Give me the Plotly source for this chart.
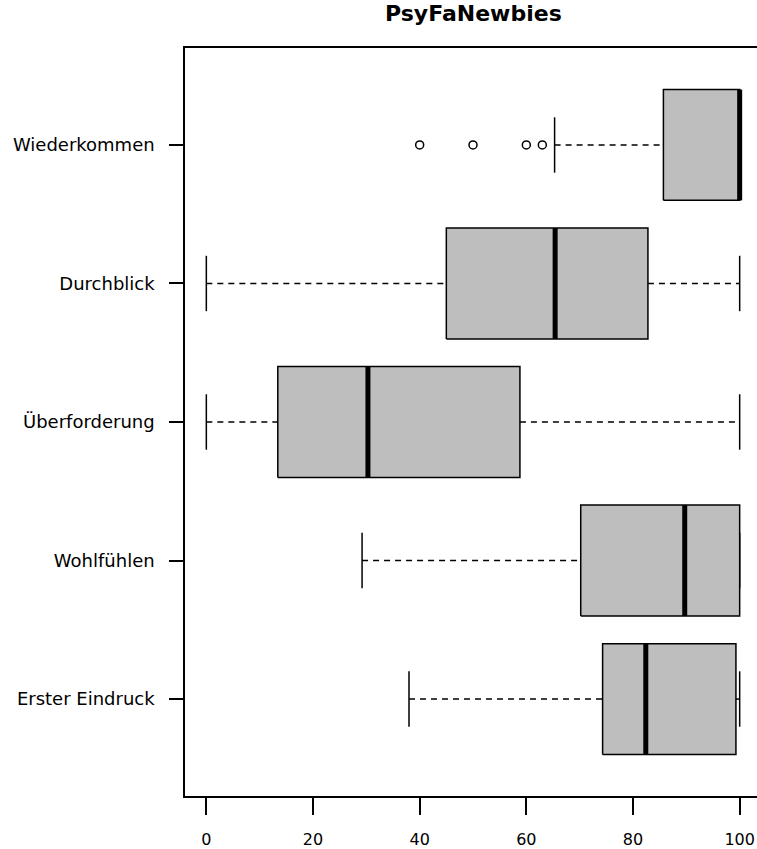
import plotly.graph_objects as go

# ---- data ----
categories = ["Erster Eindruck", "Wohlfühlen", "Überforderung", "Durchblick", "Wiederkommen"]
lower_whisker = [38.0, 29.2, 0.0, 0.0, 65.3]
q1 = [74.3, 70.2, 13.4, 45.0, 85.7]
median = [82.4, 89.7, 30.3, 65.4, 100.0]
q3 = [99.3, 100.0, 58.8, 82.8, 100.0]
upper_whisker = [100.0, 100.0, 100.0, 100.0, 100.0]
outlier_group = ["Wiederkommen", "Wiederkommen", "Wiederkommen", "Wiederkommen"]
outlier_values = [40.0, 50.0, 60.0, 63.0]
x_ticks = [0, 20, 40, 60, 80, 100]
title_text = "PsyFaNewbies"

# ---- styling ----
BOX_HALF = 0.4
CAP_HALF = 0.2
FILL = "#BEBEBE"
INK = "black"
FONT = "DejaVu Sans"

pos = {c: i + 1 for i, c in enumerate(categories)}

fig = go.Figure()

# whiskers (dashed)
wx, wy = [], []
for i, c in enumerate(categories):
    p = pos[c]
    wx += [lower_whisker[i], q1[i], None, q3[i], upper_whisker[i], None]
    wy += [p, p, None, p, p, None]
fig.add_trace(go.Scatter(x=wx, y=wy, mode="lines", hoverinfo="skip",
                         line=dict(color=INK, width=1.5, dash="6px,5px")))

# caps (staples)
cx, cy = [], []
for i, c in enumerate(categories):
    p = pos[c]
    for v in (lower_whisker[i], upper_whisker[i]):
        cx += [v, v, None]
        cy += [p - CAP_HALF, p + CAP_HALF, None]
fig.add_trace(go.Scatter(x=cx, y=cy, mode="lines", hoverinfo="skip",
                         line=dict(color=INK, width=1.5)))

# boxes
for i, c in enumerate(categories):
    p = pos[c]
    fig.add_trace(go.Scatter(
        x=[q1[i], q3[i], q3[i], q1[i], q1[i]],
        y=[p - BOX_HALF, p - BOX_HALF, p + BOX_HALF, p + BOX_HALF, p - BOX_HALF],
        mode="lines", fill="toself", fillcolor=FILL, hoverinfo="skip",
        line=dict(color=INK, width=1.5)))

# medians
mx, my = [], []
for i, c in enumerate(categories):
    p = pos[c]
    mx += [median[i], median[i], None]
    my += [p - BOX_HALF, p + BOX_HALF, None]
fig.add_trace(go.Scatter(x=mx, y=my, mode="lines", hoverinfo="skip",
                         line=dict(color=INK, width=5)))

# outliers
fig.add_trace(go.Scatter(
    x=outlier_values, y=[pos[g] for g in outlier_group], mode="markers",
    marker=dict(symbol="circle-open", size=8, color=INK, line=dict(width=1.5))))

fig.add_annotation(text="<b>" + title_text + "</b>", x=50, xref="x",
                   y=1, yref="paper", yanchor="bottom", yshift=20, showarrow=False,
                   font=dict(family=FONT, size=22, color=INK))

fig.update_layout(
    width=757, height=849,
    margin=dict(l=185, r=0, t=48, b=53),
    paper_bgcolor="white", plot_bgcolor="white",
    showlegend=False,
    font=dict(family=FONT, size=17, color=INK),
    xaxis=dict(range=[-4, 103.25], tickvals=x_ticks, ticktext=[str(t) for t in x_ticks],
               showgrid=False, zeroline=False, showline=True, mirror=True,
               linecolor=INK, linewidth=1.5, ticks="outside", ticklen=17,
               tickwidth=1.5, tickcolor=INK, ticklabelstandoff=11, automargin=False,
               tickfont=dict(family=FONT, size=16, color=INK)),
    yaxis=dict(range=[0.3, 5.7], tickvals=[pos[c] for c in categories], ticktext=categories,
               showgrid=False, zeroline=False, showline=True, mirror=False,
               linecolor=INK, linewidth=1.5, ticks="outside", ticklen=14,
               tickwidth=1.5, tickcolor=INK, ticklabelstandoff=11, automargin=False,
               tickfont=dict(family=FONT, size=18, color=INK)),
)

fig.write_html("out.html", config={"displayModeBar": False},
               post_script="document.body.style.margin='0';")
